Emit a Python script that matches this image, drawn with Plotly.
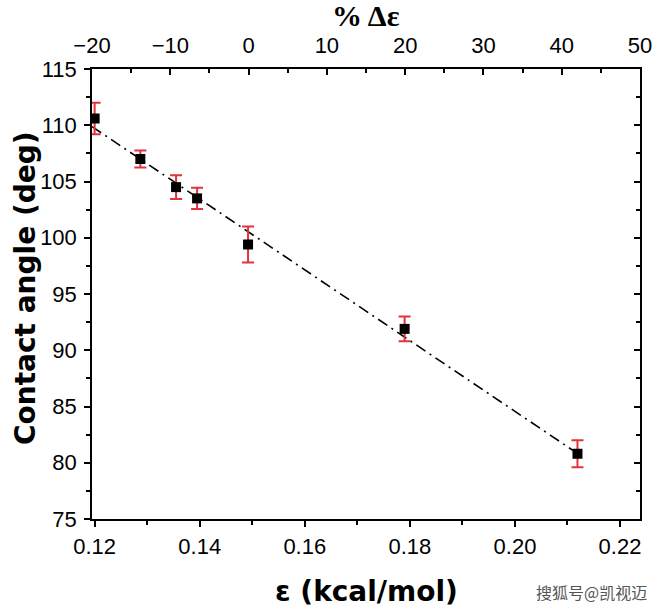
import numpy as np
import plotly.graph_objects as go

# data
eps = [0.1200, 0.1287, 0.1355, 0.1395, 0.1492, 0.1790, 0.2119]
angle = [110.6, 107.0, 104.5, 103.5, 99.4, 91.9, 80.8]
err = [1.4, 0.75, 1.05, 0.95, 1.6, 1.1, 1.2]

x_range = [0.1195, 0.2238]
top_range = [-20, 50]
y_range = [75, 115]
x_ticks = [0.12, 0.14, 0.16, 0.18, 0.20, 0.22]

# linear fit
k, b = np.polyfit(eps, angle, 1)
fit_x = np.array([x_range[0], max(eps)])
fit_y = k * fit_x + b

fig = go.Figure()
fig.add_trace(go.Scatter(x=fit_x, y=fit_y, mode="lines",
                         line=dict(color="black", width=1.6, dash="11px,5px,2px,5px"),
                         showlegend=False, hoverinfo="skip"))
fig.add_trace(go.Scatter(x=eps, y=angle, mode="markers",
                         marker=dict(symbol="square", size=10, color="black"),
                         error_y=dict(type="data", array=err, color="#e2323c",
                                      thickness=2, width=6),
                         showlegend=False))
# invisible trace for secondary axes
fig.add_trace(go.Scatter(x=top_range, y=y_range, xaxis="x2", yaxis="y2",
                         mode="markers", marker=dict(opacity=0),
                         showlegend=False, hoverinfo="skip"))

tickfont = dict(family="Liberation Sans, Arial", size=22, color="black")
axline = dict(showline=True, linecolor="black", linewidth=1.5,
              showgrid=False, zeroline=False)
title_font = dict(family="DejaVu Sans", size=28, color="black")

fig.update_layout(
    width=664, height=610,
    margin=dict(l=92, r=13, t=69, b=91),
    plot_bgcolor="white", paper_bgcolor="white",
    xaxis=dict(range=x_range, tickvals=x_ticks, tickformat=".2f",
               ticks="outside", ticklen=6, tickwidth=1.5, tickcolor="black",
               ticklabelstandoff=1,
               minor=dict(dtick=0.01, tick0=0.12, ticks="outside", ticklen=4,
                          tickwidth=1.5, tickcolor="black"),
               tickfont=tickfont, **axline),
    xaxis2=dict(range=top_range, dtick=10, tick0=-20, overlaying="x",
                side="top", anchor="y",
                ticks="inside", ticklen=6, tickwidth=1.5, tickcolor="black",
                ticklabelstandoff=5,
                minor=dict(dtick=5, ticks="inside", ticklen=4,
                           tickwidth=1.5, tickcolor="black"),
                tickfont=tickfont, **axline),
    yaxis=dict(range=y_range, dtick=5, tick0=75,
               ticks="outside", ticklen=6, tickwidth=1.5, tickcolor="black",
               ticklabelstandoff=3,
               minor=dict(dtick=2.5, ticks="outside", ticklen=4,
                          tickwidth=1.5, tickcolor="black"),
               tickfont=tickfont, **axline),
    yaxis2=dict(range=y_range, dtick=5, tick0=75, overlaying="y",
                side="right", anchor="x", showticklabels=False,
                ticks="inside", ticklen=6, tickwidth=1.5, tickcolor="black",
                minor=dict(dtick=2.5, ticks="inside", ticklen=4,
                           tickwidth=1.5, tickcolor="black"),
                **axline),
    annotations=[
        dict(text="<b>Contact angle (deg)</b>", xref="paper", yref="paper",
             x=0, y=0.5, xanchor="center", yanchor="middle", xshift=-67,
             yshift=6, textangle=-90, showarrow=False, font=title_font),
        dict(text="<b>ε (kcal/mol)</b>", xref="paper", yref="paper",
             x=0.5, y=0, xanchor="center", yanchor="middle", yshift=-72,
             showarrow=False, font=title_font),
        dict(text="<b>% Δε</b>", xref="paper", yref="paper",
             x=0.5, y=1, xanchor="center", yanchor="middle", yshift=54,
             showarrow=False,
             font=dict(family="Liberation Serif, Times New Roman", size=30,
                       color="black")),
        dict(text="搜狐号@凯视迈", xref="paper", yref="paper",
             x=1, y=0, xanchor="right", yanchor="middle", xshift=9,
             yshift=-73, showarrow=False,
             font=dict(family="Noto Sans CJK SC", size=16, color="#555555")),
    ],
)

fig.write_html("out.html")
